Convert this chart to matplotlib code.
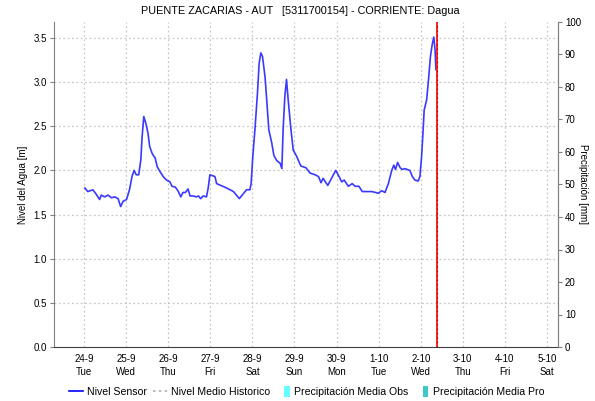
import numpy as np
import matplotlib
matplotlib.use("Agg")
import matplotlib.pyplot as plt
from matplotlib.lines import Line2D
from matplotlib.patches import Patch, Rectangle
from matplotlib.legend_handler import HandlerPatch

plt.rcParams['font.family'] = ['Liberation Sans', 'DejaVu Sans']

# días desde 24-9 00:00
dias = [0.02, 0.09, 0.21, 0.29, 0.37, 0.41, 0.49, 0.57, 0.65, 0.73, 0.81, 0.87,
        0.93, 1.01, 1.08, 1.14, 1.19, 1.24, 1.30, 1.35, 1.38, 1.42, 1.47, 1.52,
        1.56, 1.62, 1.66, 1.69, 1.74, 1.80, 1.88, 1.96, 2.04, 2.09, 2.17, 2.23,
        2.30, 2.35, 2.41, 2.47, 2.52, 2.59, 2.67, 2.72, 2.77, 2.83, 2.91, 2.95,
        2.99, 3.11, 3.15, 3.39, 3.55, 3.69, 3.86, 3.94, 3.97, 4.01, 4.06, 4.12,
        4.16, 4.20, 4.24, 4.30, 4.34, 4.39, 4.46, 4.51, 4.58, 4.66, 4.70, 4.73,
        4.77, 4.81, 4.85, 4.91, 4.97, 5.05, 5.15, 5.27, 5.37, 5.49, 5.57, 5.63,
        5.68, 5.79, 5.88, 5.98, 6.06, 6.12, 6.18, 6.28, 6.37, 6.44, 6.53, 6.61,
        6.83, 6.93, 6.99, 7.07, 7.15, 7.23, 7.31, 7.36, 7.40, 7.45, 7.51, 7.56,
        7.62, 7.74, 7.80, 7.86, 7.94, 7.98, 8.02, 8.06, 8.08, 8.14, 8.19, 8.23,
        8.27, 8.31, 8.34, 8.36]
nivel = [1.80, 1.76, 1.78, 1.73, 1.67, 1.72, 1.70, 1.72, 1.69, 1.70, 1.68, 1.59,
         1.65, 1.67, 1.78, 1.93, 2.00, 1.95, 1.95, 2.12, 2.38, 2.61, 2.53, 2.42,
         2.27, 2.19, 2.16, 2.14, 2.04, 1.99, 1.93, 1.89, 1.87, 1.82, 1.81, 1.77,
         1.70, 1.75, 1.75, 1.79, 1.71, 1.71, 1.70, 1.71, 1.68, 1.71, 1.70, 1.80,
         1.95, 1.93, 1.85, 1.80, 1.76, 1.68, 1.78, 1.78, 1.85, 2.16, 2.46, 2.87,
         3.21, 3.33, 3.29, 3.06, 2.80, 2.46, 2.31, 2.17, 2.11, 2.08, 2.02, 2.46,
         2.83, 3.03, 2.80, 2.49, 2.23, 2.16, 2.05, 2.03, 1.97, 1.95, 1.93, 1.86,
         1.91, 1.83, 1.91, 2.00, 1.93, 1.87, 1.89, 1.82, 1.85, 1.82, 1.82, 1.76,
         1.76, 1.75, 1.74, 1.77, 1.75, 1.85, 2.00, 2.06, 2.01, 2.09, 2.03, 2.01,
         2.02, 2.00, 1.93, 1.89, 1.88, 1.93, 2.16, 2.49, 2.68, 2.80, 3.06, 3.29,
         3.42, 3.51, 3.36, 3.14]

tick_dias = list(range(12))
tick_labels = ['24-9\nTue', '25-9\nWed', '26-9\nThu', '27-9\nFri', '28-9\nSat',
               '29-9\nSun', '30-9\nMon', '1-10\nTue', '2-10\nWed', '3-10\nThu',
               '4-10\nFri', '5-10\nSat']
ahora = 8.38  # linea roja (hora actual)

titulo = 'PUENTE ZACARIAS - AUT   [5311700154] - CORRIENTE: Dagua'

fig = plt.figure(figsize=(5.95, 4.01), dpi=100)
ax = fig.add_axes([54/595, 1-347/401, (558-54)/595, (347-22)/401])

gris = '#c8c8c8'
for d in tick_dias:
    ax.axvline(d, color=gris, ls=(0, (1.5, 2)), lw=0.9, zorder=0)
for v in np.arange(0.5, 3.6, 0.5):
    ax.axhline(v, color=gris, ls=(0, (1.5, 2)), lw=0.9, zorder=0)

ax.plot(dias, nivel, color='#3a3aff', lw=1.2, zorder=3)
ax.axvline(ahora, color='#ff2020', lw=1.4, zorder=4)
ax.axvline(ahora, color='#900000', lw=0.8, ls=(0, (1, 3)), zorder=5)

ax.set_xlim(-0.713, 11.26)
ax.set_ylim(0, 3.68)
ax.set_xticks(tick_dias)
ax.set_xticklabels(tick_labels, fontsize=7, linespacing=1.35)
ax.set_yticks(np.arange(0, 3.6, 0.5))
ax.set_yticklabels([f'{v:.1f}' for v in np.arange(0, 3.6, 0.5)], fontsize=7)
ax.tick_params(axis='x', length=0, pad=5)
ax.tick_params(axis='y', length=3, width=0.8, color='#808080', pad=2)
ax.set_ylabel('Nivel del Agua [m]', fontsize=7, labelpad=4)

ax.spines['top'].set_visible(False)
ax.spines['left'].set_color('#808080')
ax.spines['right'].set_color('#808080')
ax.spines['bottom'].set_color('#404040')
ax.spines['bottom'].set_linestyle((0, (1, 1)))

ax2 = ax.twinx()
ax2.set_ylim(0, 100)
ax2.set_yticks(range(0, 101, 10))
ax2.set_yticklabels([str(v) for v in range(0, 101, 10)], fontsize=7)
ax2.tick_params(axis='y', length=3, width=0.8, color='#808080', pad=2)
ax2.set_ylabel('Precipitación [mm]', fontsize=7, rotation=270, labelpad=5)
for s in ['top', 'left', 'bottom']:
    ax2.spines[s].set_visible(False)
ax2.spines['right'].set_color('#808080')

fig.text(0.505, 0.972, titulo, ha='center', va='center', fontsize=7.8)


def barra(legend, orig_handle, xdescent, ydescent, width, height, fontsize):
    return Rectangle((xdescent + width*0.55, ydescent - height*0.2), width*0.35, height*1.4)


handles = [Line2D([], [], color='blue', lw=1.2),
           Line2D([], [], color='#b0b0b0', lw=1.2, ls=(0, (1.5, 2))),
           Patch(facecolor='#66ffff', edgecolor='none'),
           Patch(facecolor='#40c8c8', edgecolor='none')]
labels = ['Nivel Sensor', 'Nivel Medio Historico', 'Precipitación Media Obs',
          'Precipitación Media Pro']
fig.legend(handles, labels, loc='center', bbox_to_anchor=(0.515, 0.022), ncol=4,
           frameon=False, fontsize=7.6, handlelength=1.4, handletextpad=0.3,
           columnspacing=0.6,
           handler_map={Patch: HandlerPatch(patch_func=barra)})

fig.savefig('out.png', dpi=100)
